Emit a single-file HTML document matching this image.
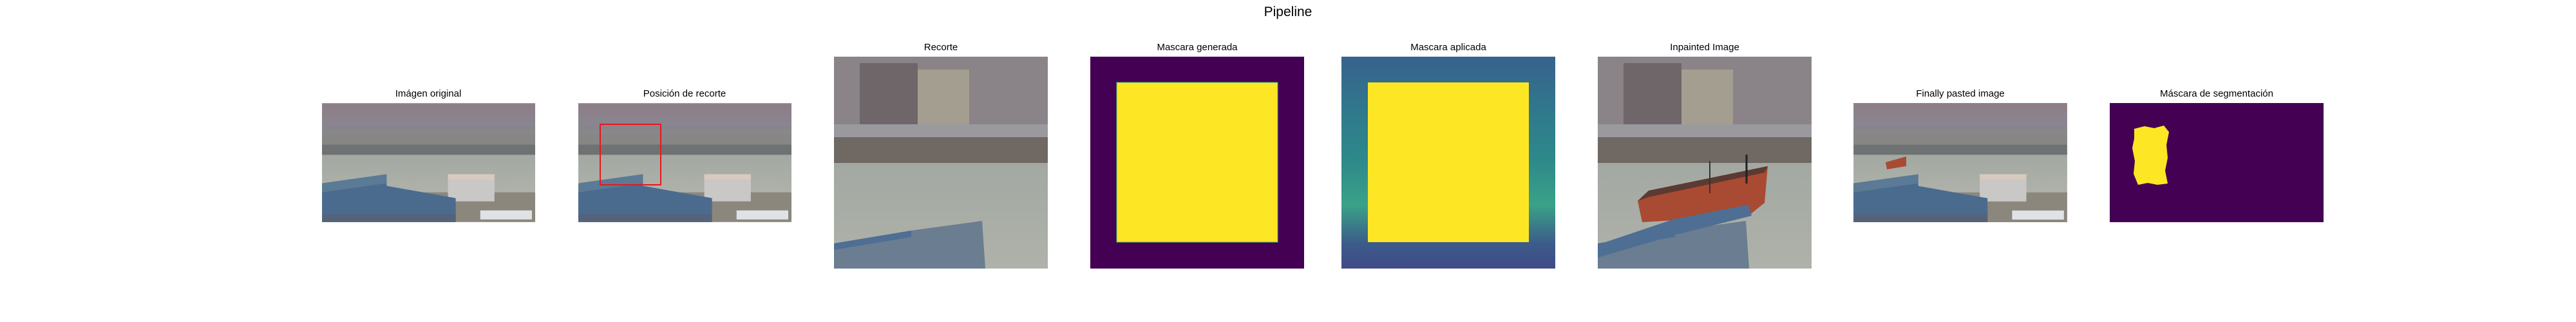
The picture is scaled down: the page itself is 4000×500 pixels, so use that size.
<!DOCTYPE html>
<html><head><meta charset="utf-8"><style>
html,body{margin:0;padding:0;background:#fff;width:4000px;height:500px;overflow:hidden}
text{font-family:"Liberation Sans","DejaVu Sans",sans-serif}
</style></head><body>
<svg width="4000" height="500" viewBox="0 0 4000 500" xmlns="http://www.w3.org/2000/svg">
<defs>
  <linearGradient id="city" x1="0" y1="0" x2="0" y2="1">
    <stop offset="0" stop-color="#8e7d86"/><stop offset="0.5" stop-color="#8a8590"/><stop offset="1" stop-color="#7d7f85"/>
  </linearGradient>
  <linearGradient id="water" x1="0" y1="0" x2="0" y2="1">
    <stop offset="0" stop-color="#a3a8a2"/><stop offset="1" stop-color="#aeb2aa"/>
  </linearGradient>
  <linearGradient id="viridisbg" x1="0" y1="0" x2="0" y2="1">
    <stop offset="0" stop-color="#37628c"/><stop offset="0.3" stop-color="#2f7c8c"/><stop offset="0.5" stop-color="#2e8a8a"/><stop offset="0.7" stop-color="#3aa287"/><stop offset="0.88" stop-color="#3c5c8b"/><stop offset="1" stop-color="#404a88"/>
  </linearGradient>
  <symbol id="harbor" viewBox="0 0 330 184">
    <rect x="0" y="0" width="330" height="64" fill="url(#city)"/>
    <rect x="0" y="40" width="330" height="24" fill="#8c8a86" opacity="0.6"/>
    <rect x="0" y="64" width="330" height="16" fill="#6f7272"/>
    <rect x="0" y="80" width="330" height="60" fill="url(#water)"/>
    <rect x="0" y="138" width="330" height="46" fill="#8b877d"/>
    <rect x="195" y="110" width="72" height="42" fill="#c9c8c6"/>
    <rect x="195" y="110" width="72" height="8" fill="#d8cbbd"/>
    <polygon points="0,124 100,110 100,128 207,147 207,184 0,184" fill="#4a6b8e"/>
    <polygon points="0,124 100,110 100,124 0,138" fill="#5a7a96"/>
    <rect x="0" y="172" width="207" height="12" fill="#55637a"/>
    <rect x="245" y="166" width="80" height="14" fill="#dfe3e6"/>
  </symbol>
  <symbol id="crop" viewBox="0 0 332 329">
    <rect x="0" y="0" width="332" height="125" fill="#8a8488"/>
    <rect x="40" y="10" width="90" height="100" fill="#6e6668"/>
    <rect x="130" y="20" width="80" height="100" fill="#a39e90"/>
    <rect x="0" y="105" width="332" height="20" fill="#9a9a9e"/>
    <rect x="0" y="125" width="332" height="40" fill="#6f6863"/>
    <rect x="0" y="165" width="332" height="164" fill="url(#water)"/>
    <polygon points="0,290 120,270 230,255 235,329 0,329" fill="#6b7d90"/>
    <polygon points="0,290 120,270 120,280 0,300" fill="#4f6e94"/>
  </symbol>
</defs>

<text x="2000" y="25" font-size="21" text-anchor="middle" fill="#000">Pipeline</text>

<g>
  <text x="665" y="150" font-size="15" text-anchor="middle">Imágen original</text>
  <use href="#harbor" x="500" y="160" width="331" height="185"/>
</g>
<g>
  <text x="1063" y="150" font-size="15" text-anchor="middle">Posición de recorte</text>
  <use href="#harbor" x="898" y="160" width="331" height="185"/>
  <rect x="932" y="193" width="94" height="94" fill="none" stroke="#e8171b" stroke-width="2"/>
</g>
<g>
  <text x="1461" y="78" font-size="15" text-anchor="middle">Recorte</text>
  <use href="#crop" x="1295" y="88" width="332" height="329"/>
</g>
<g>
  <text x="1859" y="78" font-size="15" text-anchor="middle">Mascara generada</text>
  <rect x="1693" y="88" width="332" height="329" fill="#440154"/>
  <rect x="1734" y="128" width="250" height="248" fill="#fde725" stroke="#3fbc73" stroke-width="1"/>
</g>
<g>
  <text x="2249" y="78" font-size="15" text-anchor="middle">Mascara aplicada</text>
  <rect x="2083" y="88" width="332" height="329" fill="url(#viridisbg)"/>
  <rect x="2124" y="128" width="250" height="248" fill="#fde725"/>
</g>
<g>
  <text x="2647" y="78" font-size="15" text-anchor="middle">Inpainted Image</text>
  <use href="#crop" x="2481" y="88" width="332" height="329"/>
  <polygon points="2543,312 2560,296 2745,258 2740,315 2715,335 2550,345" fill="#a94a33"/>
  <polygon points="2543,312 2560,296 2745,258 2740,268 2560,306" fill="#5a3a32"/>
  <line x1="2655" y1="300" x2="2655" y2="250" stroke="#333" stroke-width="2"/>
  <line x1="2712" y1="285" x2="2712" y2="240" stroke="#222" stroke-width="3"/>
  <polygon points="2481,380 2600,340 2715,318 2720,335 2600,365 2481,400" fill="#4f6e94"/>
</g>
<g>
  <text x="3044" y="150" font-size="15" text-anchor="middle">Finally pasted image</text>
  <use href="#harbor" x="2878" y="160" width="332" height="185"/>
  <polygon points="2930,263 2928,252 2960,243 2960,258" fill="#a94a33"/>
</g>
<g>
  <text x="3442" y="150" font-size="15" text-anchor="middle">Máscara de segmentación</text>
  <rect x="3276" y="160" width="332" height="185" fill="#440154"/>
  <polygon points="3314,200 3330,196 3345,199 3360,195 3368,205 3364,225 3366,245 3362,265 3366,285 3350,287 3335,284 3320,287 3313,270 3315,250 3311,230 3314,215" fill="#fde725"/>
</g>
</svg>
</body></html>
